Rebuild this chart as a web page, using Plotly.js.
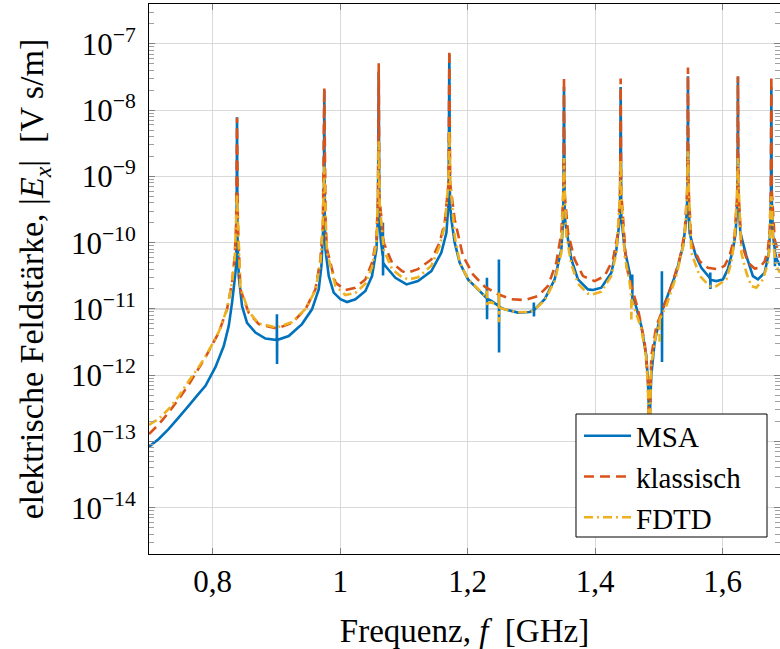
<!DOCTYPE html>
<html>
<head>
<meta charset="utf-8">
<script src="https://cdn.plot.ly/plotly-3.0.1.min.js"></script>
<style>html,body{margin:0;padding:0;background:#fff;}#chart{width:780px;height:649px;}</style>
</head>
<body>
<div id="chart"></div>
<script>
// ---- data ----
const seriesNames = ['MSA', 'klassisch', 'FDTD'];

const msaFreq = [0.700,0.7153,0.731,0.7467,0.7624,0.7754,0.7886,0.8042,0.8173,0.8251,0.8303,0.8345,0.8366,0.8374,0.8381,0.8388,0.8408,0.846,0.8538,0.867,0.8827,0.9005,0.9007,0.9009,0.9011,0.9192,0.94,0.9557,0.9663,0.9705,0.9725,0.9743,0.9750,0.9757,0.9768,0.982,0.9898,1.0003,1.0107,1.0238,1.0395,1.0499,1.0568,1.0592,1.0604,1.0614,1.0635,1.0668,1.0670,1.0672,1.0674,1.0709,1.0866,1.1040,1.122,1.143,1.1587,1.1666,1.1700,1.1712,1.1722,1.1744,1.1796,1.1875,1.2005,1.2162,1.2300,1.2302,1.2304,1.2306,1.2372,1.2489,1.2490,1.2492,1.2494,1.258,1.279,1.2973,1.3036,1.3038,1.3040,1.3042,1.3208,1.3365,1.347,1.3500,1.3511,1.3522,1.3548,1.3627,1.373,1.3887,1.3966,1.4097,1.4254,1.4333,1.4390,1.4400,1.4410,1.4463,1.4541,1.4580,1.4582,1.4584,1.462,1.4724,1.4803,1.4829,1.4850,1.4881,1.4933,1.5012,1.5046,1.5047,1.5049,1.5051,1.5117,1.5273,1.5377,1.543,1.5450,1.5456,1.5462,1.5482,1.552,1.558,1.5666,1.5796,1.5805,1.5806,1.5808,1.5810,1.5901,1.6005,1.6083,1.6162,1.6204,1.6234,1.6240,1.6246,1.6278,1.6372,1.6475,1.6554,1.6659,1.6726,1.6745,1.6758,1.6764,1.6770,1.6790,1.6818,1.6819,1.6821,1.6823,1.6850,1.690];
const msaVal  = [8.3e-14,1.09e-13,1.55e-13,2.31e-13,3.47e-13,4.9e-13,6.92e-13,1.32e-12,2.75e-12,5.5e-12,1.245e-11,2.79e-11,4.43e-11,1.26e-10,7.8e-9,1.26e-10,3.13e-11,1.10e-11,6.17e-12,4.4e-12,3.57e-12,3.40e-12,8.3e-12,1.48e-12,3.40e-12,3.89e-12,5.9e-12,9.86e-12,1.97e-11,4.43e-11,1.12e-10,2.5e-10,2.0e-8,2.5e-10,7.9e-11,3.13e-11,1.76e-11,1.40e-11,1.27e-11,1.40e-11,1.86e-11,3.13e-11,7.9e-11,2.5e-10,3.8e-8,2.5e-10,1.12e-10,6.3e-11,2.0e-10,3.2e-11,5.0e-11,4.43e-11,2.95e-11,2.34e-11,2.63e-11,3.72e-11,7.08e-11,1.41e-10,4e-10,7.0e-8,4e-10,2.24e-10,1.0e-10,4.98e-11,2.79e-11,1.97e-11,1.45e-11,2.95e-11,6.97e-12,1.42e-11,1.32e-11,1.1e-11,5.58e-11,2.2e-12,1.08e-11,9.86e-12,8.79e-12,9.0e-12,9.55e-12,1.245e-11,7.66e-12,9.6e-12,1.40e-11,2.79e-11,7.9e-11,2.5e-10,2.24e-8,2.5e-10,1.58e-10,5.58e-11,2.79e-11,1.97e-11,1.93e-11,2.09e-11,3.52e-11,7.9e-11,2.5e-10,2.24e-8,2.5e-10,7.9e-11,3.52e-11,2.0e-11,3.31e-11,1.40e-11,1.30e-11,5.5e-12,1.95e-12,7.9e-13,1.5e-13,1.0e-12,3.16e-12,6.97e-12,8.9e-12,3.7e-11,1.58e-12,9.5e-12,1.40e-11,3.55e-11,8.7e-11,2.24e-10,6e-10,3.24e-8,6e-10,1.41e-10,1.0e-10,6.3e-11,4.17e-11,2.95e-11,2.8e-11,3.55e-11,2.0e-11,2.75e-11,2.63e-11,2.79e-11,3.98e-11,7.9e-11,1.41e-10,5e-10,3.2e-8,5e-10,1.41e-10,6.3e-11,3.13e-11,2.79e-11,3.52e-11,7.08e-11,1.58e-10,5e-10,2.24e-8,5e-10,1.3e-10,8e-11,1.0e-10,4.4e-11,7e-11,5.62e-11,4.5e-11];

const klassFreq = [0.700,0.7155,0.731,0.7467,0.7624,0.7755,0.7886,0.8094,0.8224,0.8303,0.8345,0.8368,0.8381,0.8394,0.8434,0.8565,0.8722,0.9009,0.9244,0.9454,0.9611,0.9689,0.9728,0.9750,0.9772,0.9793,0.9925,1.0081,1.0238,1.0395,1.0499,1.0568,1.0594,1.0604,1.0614,1.0682,1.0813,1.097,1.1040,1.122,1.143,1.156,1.1639,1.1700,1.1712,1.1724,1.1796,1.1926,1.2083,1.2267,1.2476,1.2685,1.2894,1.3103,1.326,1.339,1.347,1.3503,1.3511,1.3519,1.3574,1.3678,1.3809,1.3992,1.4149,1.428,1.4358,1.4392,1.4400,1.4408,1.449,1.4568,1.4672,1.4776,1.4829,1.4850,1.4881,1.496,1.5064,1.5195,1.5325,1.5404,1.5448,1.5456,1.5464,1.5509,1.5639,1.5769,1.5927,1.6030,1.611,1.6188,1.6232,1.6240,1.6248,1.6293,1.6397,1.6502,1.658,1.6660,1.6711,1.6740,1.6756,1.6764,1.6772,1.6816,1.690];
const klassVal  = [1.29e-13,1.82e-13,2.75e-13,4.37e-13,7.24e-13,1.16e-12,1.86e-12,4.4e-12,9.86e-12,2.49e-11,6.3e-11,2e-10,7.7e-9,2e-10,1.97e-11,8.7e-12,5.9e-12,5.05e-12,6.17e-12,9.86e-12,1.97e-11,5.58e-11,1.8e-10,2.2e-8,1.8e-10,7.9e-11,2.49e-11,1.93e-11,2.09e-11,2.79e-11,4.98e-11,1.12e-10,5e-10,5.1e-8,5e-10,1.0e-10,4.98e-11,3.72e-11,3.5e-11,3.98e-11,5.58e-11,1.0e-10,2.0e-10,8e-10,8.1e-8,8e-10,2.24e-10,6.3e-11,3.31e-11,2.17e-11,1.66e-11,1.40e-11,1.36e-11,1.57e-11,2.22e-11,4.98e-11,1.41e-10,6e-10,3.16e-8,6e-10,1.41e-10,5.58e-11,3.13e-11,2.63e-11,3.13e-11,5.58e-11,1.41e-10,6e-10,3.0e-8,6e-10,4.43e-11,2.22e-11,9.86e-12,3.16e-12,7.9e-13,1.2e-13,1.95e-12,5.5e-12,1.0e-11,2.19e-11,5.62e-11,1.41e-10,7e-10,4.4e-8,7e-10,1.0e-10,5.25e-11,4.17e-11,3.98e-11,4.47e-11,6.3e-11,1.26e-10,6e-10,3.24e-8,6e-10,1.0e-10,5.0e-11,4.07e-11,4.17e-11,5.25e-11,7.9e-11,1.58e-10,6e-10,3.24e-8,6e-10,1.12e-10,6.0e-11];

const fdtdFreq = [0.700,0.7153,0.731,0.7467,0.7624,0.7755,0.7886,0.8094,0.8224,0.8303,0.8345,0.8362,0.8381,0.8400,0.8434,0.8565,0.8722,0.9009,0.9244,0.9454,0.9611,0.9689,0.9722,0.9750,0.9778,0.9793,0.9925,1.0081,1.0238,1.0395,1.0499,1.0568,1.0590,1.0604,1.0618,1.0682,1.0813,1.097,1.1075,1.122,1.143,1.156,1.1639,1.1697,1.1712,1.1727,1.1796,1.1875,1.2005,1.2162,1.2300,1.2302,1.2304,1.2372,1.2489,1.2490,1.2492,1.2494,1.258,1.279,1.2973,1.3036,1.3208,1.3365,1.347,1.3494,1.3511,1.3528,1.3548,1.3627,1.373,1.3887,1.3966,1.4097,1.4254,1.4333,1.4383,1.4400,1.4417,1.4463,1.4541,1.4566,1.4568,1.4570,1.462,1.4724,1.4803,1.4829,1.4850,1.4881,1.496,1.5010,1.5012,1.5014,1.5117,1.5273,1.5404,1.5439,1.5456,1.5473,1.5509,1.5639,1.5796,1.5901,1.6058,1.6136,1.6188,1.6223,1.6240,1.6257,1.6293,1.6372,1.6450,1.6528,1.6633,1.6711,1.6740,1.6750,1.6764,1.6778,1.6790,1.684,1.690];
const fdtdVal  = [1.78e-13,2.19e-13,3.09e-13,4.8e-13,8.2e-13,1.23e-12,1.9e-12,4.47e-12,1.0e-11,2.5e-11,6.0e-11,1.6e-10,5.4e-10,1.6e-10,2.1e-11,9.1e-12,6.0e-12,5.25e-12,6.3e-12,1.0e-11,1.9e-11,5.0e-11,1.5e-10,1.41e-9,1.5e-10,7.1e-11,2.24e-11,1.62e-11,1.74e-11,2.4e-11,4.27e-11,1.0e-10,4e-10,3.4e-9,4e-10,7.9e-11,3.98e-11,3.0e-11,2.79e-11,3.0e-11,4.47e-11,8.9e-11,1.78e-10,8e-10,5.0e-9,8e-10,1.26e-10,5.0e-11,2.8e-11,2.0e-11,1.45e-11,1.9e-11,1.2e-11,1.26e-11,1.1e-11,1.86e-11,6.3e-12,1.05e-11,9.86e-12,8.9e-12,9.0e-12,9.5e-12,1.35e-11,2.63e-11,7.1e-11,4e-10,1.9e-9,4e-10,1.26e-10,4.68e-11,2.4e-11,1.7e-11,1.66e-11,1.82e-11,3.16e-11,7.1e-11,4e-10,1.8e-9,4e-10,6.3e-11,2.5e-11,1.5e-11,6.9e-12,1.4e-11,1.0e-11,5.0e-12,1.78e-12,5.6e-13,1.0e-13,1.41e-12,4.47e-12,6.3e-12,3.2e-12,7.0e-12,1.12e-11,3.16e-11,1.12e-10,5e-10,2.4e-9,5e-10,7.08e-11,3.16e-11,2.21e-11,2.21e-11,2.79e-11,4.98e-11,1.12e-10,5e-10,1.9e-9,5e-10,7.08e-11,3.52e-11,2.21e-11,2.09e-11,2.79e-11,4.98e-11,1.0e-10,4e-10,5.0e-10,3e-10,1.0e-10,4.47e-11,3.5e-11];

const xTickVals = [0.8, 1.0, 1.2, 1.4, 1.6];
const xTickText = ['0,8', '1', '1,2', '1,4', '1,6'];
const yTickVals = [1e-14, 1e-13, 1e-12, 1e-11, 1e-10, 1e-9, 1e-8, 1e-7];
const yTickText = ['10<sup>−14</sup>','10<sup>−13</sup>','10<sup>−12</sup>','10<sup>−11</sup>','10<sup>−10</sup>','10<sup>−9</sup>','10<sup>−8</sup>','10<sup>−7</sup>'];
const xTitle = 'Frequenz, <i>f</i>  [GHz]';
const yTitle = 'elektrische Feldstärke, |<i>E<sub>x</sub></i>|  [V s/m]';

// ---- styling ----
const FONT = '"Liberation Serif", "Times New Roman", serif';
const colors = ['#0072BD', '#D95319', '#EDB120'];
const dashes = ['solid', '10px,6px', '9px,4px,2px,4px'];
const xs = [msaFreq, klassFreq, fdtdFreq];
const ys = [msaVal, klassVal, fdtdVal];

const traces = seriesNames.map((n, i) => ({
  type: 'scatter', mode: 'lines', name: n,
  x: xs[i], y: ys[i],
  line: {color: colors[i], width: 2.6, dash: dashes[i], simplify: false}
}));

// minor tick positions: 2..9 within each visible decade
const minorVals = [];
for (let e = -15; e <= -7; e++) for (let m = 2; m <= 9; m++) minorVals.push(m * Math.pow(10, e));

const layout = {
  width: 780, height: 649,
  margin: {l: 149, r: 0, t: 4, b: 95},
  paper_bgcolor: '#fff', plot_bgcolor: '#fff',
  font: {family: FONT, size: 31, color: '#000'},
  showlegend: true,
  legend: {
    x: 0.6815, xanchor: 'left', y: 0.2610, yanchor: 'top',
    bgcolor: 'rgba(0,0,0,0)', borderwidth: 0,
    font: {family: FONT, size: 29}, itemwidth: 47
  },
  // legend frame (white box with black border) behind the legend entries
  shapes: [{
    type: 'rect', xref: 'paper', yref: 'paper', layer: 'above',
    x0: 0.6767, x1: 0.9794, y0: 0.0309, y1: 0.2545,
    fillcolor: '#fff', line: {color: '#000', width: 1}
  }],
  xaxis: {
    range: [0.7, 1.69], tickmode: 'array', tickvals: xTickVals, ticktext: xTickText,
    ticks: 'inside', ticklen: 6, tickcolor: '#808080', tickwidth: 1,
    showgrid: true, gridcolor: '#d9d9d9', gridwidth: 1.2,
    showline: true, linecolor: '#000', linewidth: 1, mirror: 'ticks', zeroline: false,
    title: {text: xTitle, standoff: 20, font: {family: FONT, size: 33}},
    automargin: false
  },
  yaxis: {
    type: 'log', range: [-14.699, -6.398],
    tickmode: 'array', tickvals: yTickVals, ticktext: yTickText,
    ticks: 'inside', ticklen: 6, tickcolor: '#808080', tickwidth: 1,
    minor: {tickmode: 'array', tickvals: minorVals, ticks: 'inside', ticklen: 5, tickcolor: '#a0a0a0', showgrid: false},
    showgrid: true, gridcolor: '#d9d9d9', gridwidth: 1.2,
    showline: true, linecolor: '#000', linewidth: 1, mirror: 'ticks', zeroline: false,
    ticklabelstandoff: 6,
    title: {text: yTitle, standoff: 16, font: {family: FONT, size: 34}},
    automargin: false
  }
};

Plotly.newPlot('chart', traces, layout, {staticPlot: true, displayModeBar: false});
</script>
</body>
</html>
